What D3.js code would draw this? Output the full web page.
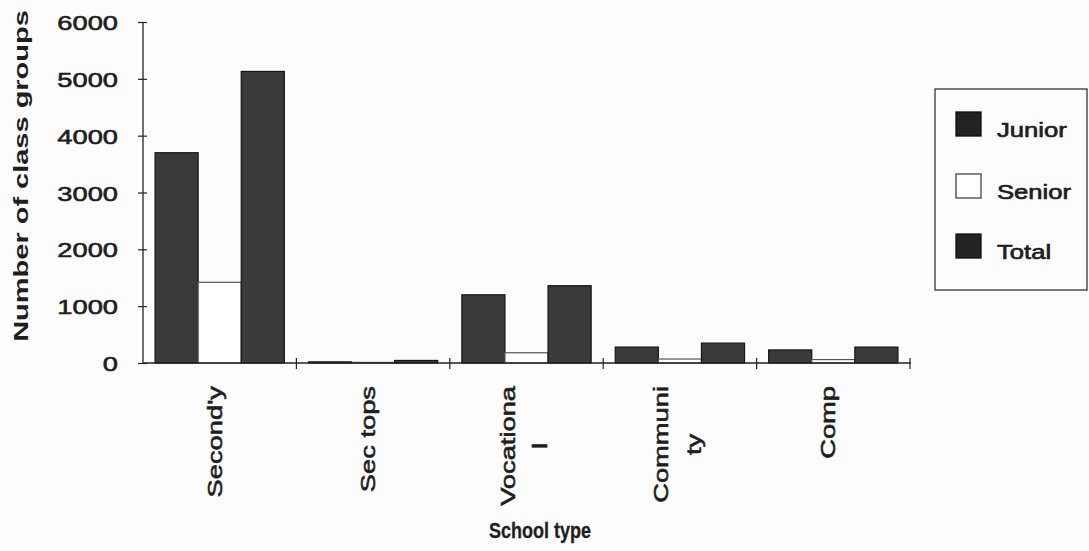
<!DOCTYPE html>
<html>
<head>
<meta charset="utf-8">
<script src="https://cdn.jsdelivr.net/npm/d3@7"></script>
<style>
  body { margin: 0; background: #fcfcfc; }
  text { font-family: "Liberation Sans", Arial, sans-serif; fill: #1e1e1e; }
</style>
</head>
<body>
<svg id="chart"></svg>
<script>
// Chart data
const categories = [["Second'y"], ["Sec tops"], ["Vocationa", "l"], ["Communi", "ty"], ["Comp"]];
const seriesNames = ["Junior", "Senior", "Total"];
const juniorValues = [3700, 20, 1200, 280, 230];
const seniorValues = [1420, 10, 180, 70, 60];
const totalValues = [5130, 45, 1360, 350, 280];
const yTicks = [0, 1000, 2000, 3000, 4000, 5000, 6000];

const width = 1089;
const height = 551;
const stretch = 1.3; // the scanned text is wider than plain Arial

const svg = d3.select('#chart')
  .attr('width', width)
  .attr('height', height);

const x0 = d3.scaleBand()
  .domain(d3.range(categories.length))
  .range([143, 910])
  .padding(0);

const x1 = d3.scaleBand()
  .domain(seriesNames)
  .range([0, x0.bandwidth()])
  .paddingInner(0)
  .paddingOuter(0.28);

const y = d3.scaleLinear()
  .domain([0, 6000])
  .range([363, 22]);

const fills = { Junior: '#3a3a3a', Senior: '#ffffff', Total: '#3a3a3a' };
const strokes = { Junior: '#151515', Senior: '#555', Total: '#151515' };

const rows = categories.map((c, i) => ({
  i,
  values: [
    { key: 'Junior', value: juniorValues[i] },
    { key: 'Senior', value: seniorValues[i] },
    { key: 'Total', value: totalValues[i] },
  ],
}));

// bars
svg.append('g')
  .selectAll('g')
  .data(rows)
  .enter()
  .append('g')
  .attr('transform', (d) => `translate(${x0(d.i)},0)`)
  .selectAll('rect')
  .data((d) => d.values)
  .enter()
  .append('rect')
  .attr('x', (d) => x1(d.key))
  .attr('y', (d) => y(d.value))
  .attr('width', x1.bandwidth())
  .attr('height', (d) => y(0) - y(d.value))
  .attr('fill', (d) => fills[d.key])
  .attr('stroke', (d) => strokes[d.key])
  .attr('stroke-width', 1.2);

// y axis
const yAxis = svg.append('g')
  .attr('transform', 'translate(143,0)')
  .call(d3.axisLeft(y).tickValues(yTicks).tickSize(5).tickFormat(d3.format('d')));
yAxis.select('.domain').attr('stroke', '#222').attr('stroke-width', 1.3).attr('d', `M0,${y(6000)}V${y(0)}`);
yAxis.selectAll('.tick line').attr('x1', 4).attr('stroke', '#222').attr('stroke-width', 1.2);
yAxis.selectAll('.tick text')
  .attr('x', -25 / stretch)
  .attr('dy', '0.36em')
  .attr('transform', `scale(${stretch},1)`)
  .style('font-size', '21px')
  .style('stroke', '#1e1e1e')
  .style('stroke-width', 0.6)
  .style('fill', '#1e1e1e');

// x axis line with ticks at category boundaries
const xg = svg.append('g');
xg.append('line')
  .attr('x1', 143).attr('x2', 911)
  .attr('y1', y(0)).attr('y2', y(0))
  .attr('stroke', '#222').attr('stroke-width', 1.3);
xg.selectAll('line.tk')
  .data(d3.range(1, categories.length + 1))
  .enter()
  .append('line')
  .attr('class', 'tk')
  .attr('x1', (d) => x0(d - 1) + x0.bandwidth())
  .attr('x2', (d) => x0(d - 1) + x0.bandwidth())
  .attr('y1', y(0) - 5)
  .attr('y2', y(0) + 6)
  .attr('stroke', '#222').attr('stroke-width', 1.2);

// category labels, rotated, lines centred on each other
const labelTop = 386;
categories.forEach((lines, i) => {
  const g = svg.append('g')
    .attr('transform', `translate(${x0(i) + x0.bandwidth() / 2 - 5 - (lines.length - 1) * 14},${labelTop}) rotate(-90) scale(${stretch},1)`);
  const texts = g.selectAll('text')
    .data(lines)
    .enter()
    .append('text')
    .attr('y', (d, j) => 7 + j * 33)
    .attr('text-anchor', 'middle')
    .style('font-size', '21px')
    .style('stroke', '#1e1e1e')
    .style('stroke-width', 0.6)
    .text((d) => d);
  const maxLen = d3.max(texts.nodes(), (n) => n.getComputedTextLength());
  texts.attr('x', -maxLen / 2);
});

// axis titles
svg.append('text')
  .attr('transform', `translate(28,176) rotate(-90) scale(1.38,1)`)
  .attr('text-anchor', 'middle')
  .style('font-size', '21px')
  .style('font-weight', 'bold')
  .text('Number of class groups');

svg.append('text')
  .attr('transform', 'translate(540,538) scale(0.82,1)')
  .attr('text-anchor', 'middle')
  .style('font-size', '22px')
  .style('font-weight', 'bold')
  .style('stroke', '#1e1e1e')
  .style('stroke-width', 0.3)
  .text('School type');

// legend
const legend = svg.append('g');
legend.append('rect')
  .attr('x', 935).attr('y', 89)
  .attr('width', 152).attr('height', 201)
  .attr('fill', 'none')
  .attr('stroke', '#333')
  .attr('stroke-width', 1.3);

const legendRows = [
  { key: 'Junior', y: 112 },
  { key: 'Senior', y: 174 },
  { key: 'Total', y: 234 },
];
legendRows.forEach((r) => {
  legend.append('rect')
    .attr('x', 956).attr('y', r.y)
    .attr('width', 25).attr('height', 24)
    .attr('fill', r.key === 'Senior' ? '#fff' : '#222')
    .attr('stroke', r.key === 'Senior' ? '#444' : '#111')
    .attr('stroke-width', 1.3);
  legend.append('text')
    .attr('transform', `translate(997,${r.y + 25}) scale(1.22,1)`)
    .style('font-size', '21px')
    .style('stroke', '#1e1e1e')
    .style('stroke-width', 0.7)
    .text(r.key);
});
</script>
</body>
</html>
